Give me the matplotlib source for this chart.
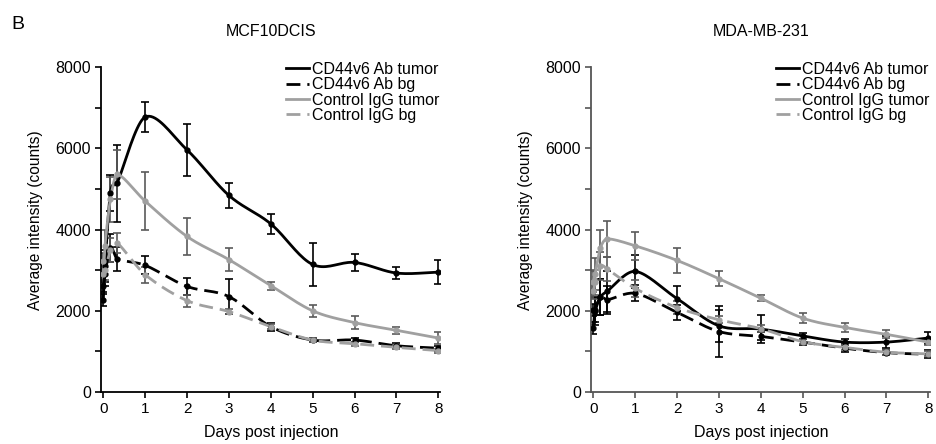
import numpy as np
import matplotlib
matplotlib.use("Agg")
import matplotlib.pyplot as plt

plt.rcParams['font.family'] = ['Liberation Sans', 'DejaVu Sans']

# time points (days)
days = [0.0, 0.04, 0.17, 0.33, 1, 2, 3, 4, 5, 6, 7, 8]

series_names = ["CD44v6 Ab tumor", "CD44v6 Ab bg", "Control IgG tumor", "Control IgG bg"]

# MCF10DCIS
mcf_ab_tumor = [2270, 3100, 4900, 5140, 6770, 5960, 4840, 4140, 3140, 3190, 2930, 2950]
mcf_ab_tumor_err = [150, 400, 450, 950, 360, 640, 300, 250, 540, 210, 140, 290]
mcf_ab_bg = [2620, 2900, 3550, 3280, 3120, 2600, 2350, 1610, 1280, 1280, 1140, 1080]
mcf_ab_bg_err = [150, 300, 350, 300, 220, 200, 440, 100, 60, 60, 60, 60]
mcf_igg_tumor = [2900, 3600, 4740, 5360, 4700, 3830, 3260, 2620, 2000, 1710, 1520, 1330]
mcf_igg_tumor_err = [200, 400, 550, 600, 720, 465, 290, 100, 150, 150, 80, 150]
mcf_igg_bg = [3220, 3000, 3500, 3670, 2890, 2250, 1980, 1610, 1280, 1190, 1100, 1020]
mcf_igg_bg_err = [200, 250, 300, 250, 200, 150, 60, 60, 50, 50, 50, 50]

# MDA-MB-231
mda_ab_tumor = [1570, 2020, 2340, 2480, 2970, 2300, 1630, 1550, 1380, 1230, 1230, 1330]
mda_ab_tumor_err = [150, 300, 450, 500, 400, 300, 400, 340, 80, 80, 150, 150]
mda_ab_bg = [2020, 2000, 2340, 2270, 2430, 1960, 1490, 1370, 1230, 1080, 970, 930]
mda_ab_bg_err = [150, 350, 450, 350, 200, 180, 620, 100, 80, 100, 60, 100]
mda_igg_tumor = [2720, 2900, 3550, 3770, 3600, 3240, 2790, 2310, 1820, 1590, 1420, 1230]
mda_igg_tumor_err = [250, 400, 450, 450, 350, 300, 190, 80, 120, 100, 100, 80]
mda_igg_bg = [2480, 2700, 3100, 3030, 2550, 2080, 1780, 1560, 1240, 1100, 980, 940]
mda_igg_bg_err = [200, 300, 350, 300, 200, 150, 80, 80, 60, 60, 60, 60]

styles = [("black", "-"), ("black", (0, (5, 2.5))), ("#a0a0a0", "-"), ("#a0a0a0", (0, (5, 2.5)))]
err_colors = ["black", "black", "#5a5a5a", "#5a5a5a"]


def smooth(x, y, n=20):
    # Catmull-Rom style smoothing, like Excel's smoothed lines
    x = np.asarray(x, float)
    y = np.asarray(y, float)
    px = np.concatenate([[2 * x[0] - x[1]], x, [2 * x[-1] - x[-2]]])
    py = np.concatenate([[2 * y[0] - y[1]], y, [2 * y[-1] - y[-2]]])
    xs, ys = [], []
    t = np.linspace(0, 1, n)
    for i in range(1, len(px) - 2):
        p0, p1, p2, p3 = px[i - 1], px[i], px[i + 1], px[i + 2]
        q0, q1, q2, q3 = py[i - 1], py[i], py[i + 1], py[i + 2]
        d = p2 - p1
        m1x = (p2 - p0) / 6
        m2x = (p3 - p1) / 6
        m1y = (q2 - q0) / 6
        m2y = (q3 - q1) / 6
        # limit tangent so curve does not run backwards in x
        s1 = min(1.0, d / max(abs(m1x) * 3, 1e-9)) if m1x else 1.0
        s2 = min(1.0, d / max(abs(m2x) * 3, 1e-9)) if m2x else 1.0
        b0x, b1x, b2x, b3x = p1, p1 + m1x * s1, p2 - m2x * s2, p2
        b0y, b1y, b2y, b3y = q1, q1 + m1y * s1, q2 - m2y * s2, q2
        bx = (1 - t) ** 3 * b0x + 3 * (1 - t) ** 2 * t * b1x + 3 * (1 - t) * t ** 2 * b2x + t ** 3 * b3x
        by = (1 - t) ** 3 * b0y + 3 * (1 - t) ** 2 * t * b1y + 3 * (1 - t) * t ** 2 * b2y + t ** 3 * b3y
        xs.extend(bx)
        ys.extend(by)
    return np.array(xs), np.array(ys)


def panel(ax, title, data, spine_color):
    for (vals, errs), (col, ls), ecol, name in zip(data, styles, err_colors, series_names):
        ax.errorbar(days, vals, yerr=errs, fmt='none', ecolor=ecol, elinewidth=1.2,
                    capsize=3, capthick=1.2, zorder=2)
        sx, sy = smooth(days, vals)
        ax.plot(sx, sy, color=col, linestyle=ls, linewidth=2, label=name, zorder=3)
        ax.plot(days, vals, 'o', color=col, markersize=3.5, zorder=4)
    ax.set_xlim(-0.05, 8.05)
    ax.set_ylim(0, 8000)
    ax.set_xticks(range(0, 9))
    ax.set_yticks([0, 2000, 4000, 6000, 8000])
    ax.set_yticks([1000, 3000, 5000, 7000], minor=True)
    ax.spines['top'].set_visible(False)
    ax.spines['right'].set_visible(False)
    ax.spines['left'].set_color(spine_color)
    ax.spines['bottom'].set_color(spine_color)
    ax.spines['left'].set_linewidth(1.3)
    ax.spines['bottom'].set_linewidth(1.3)
    ax.tick_params(axis='y', which='both', length=4, width=1.2, color=spine_color, labelsize=11.5)
    ax.tick_params(axis='x', length=4, width=1.2, color=spine_color, labelsize=11)
    ax.set_xlabel("Days post injection", fontsize=11.5, labelpad=6)
    ax.set_ylabel("Average intensity (counts)", fontsize=11.2)
    ax.yaxis.set_label_coords(-0.172, 0.53)
    ax.set_title(title, fontsize=11.5, pad=22)
    ax.legend(loc='upper right', bbox_to_anchor=(1.02, 1.04), frameon=False, fontsize=11.5,
              handlelength=1.4, handletextpad=0.2, labelspacing=0.02, borderpad=0)


fig = plt.figure(figsize=(9.37, 4.44), dpi=100)
ax1 = fig.add_axes([0.108, 0.117, 0.362, 0.732])
ax2 = fig.add_axes([0.631, 0.117, 0.362, 0.732])

panel(ax1, "MCF10DCIS",
      [(mcf_ab_tumor, mcf_ab_tumor_err), (mcf_ab_bg, mcf_ab_bg_err),
       (mcf_igg_tumor, mcf_igg_tumor_err), (mcf_igg_bg, mcf_igg_bg_err)], "black")
panel(ax2, "MDA-MB-231",
      [(mda_ab_tumor, mda_ab_tumor_err), (mda_ab_bg, mda_ab_bg_err),
       (mda_igg_tumor, mda_igg_tumor_err), (mda_igg_bg, mda_igg_bg_err)], "#555555")

fig.text(0.012, 0.935, "B", fontsize=14)

fig.savefig("out.png", dpi=100)
